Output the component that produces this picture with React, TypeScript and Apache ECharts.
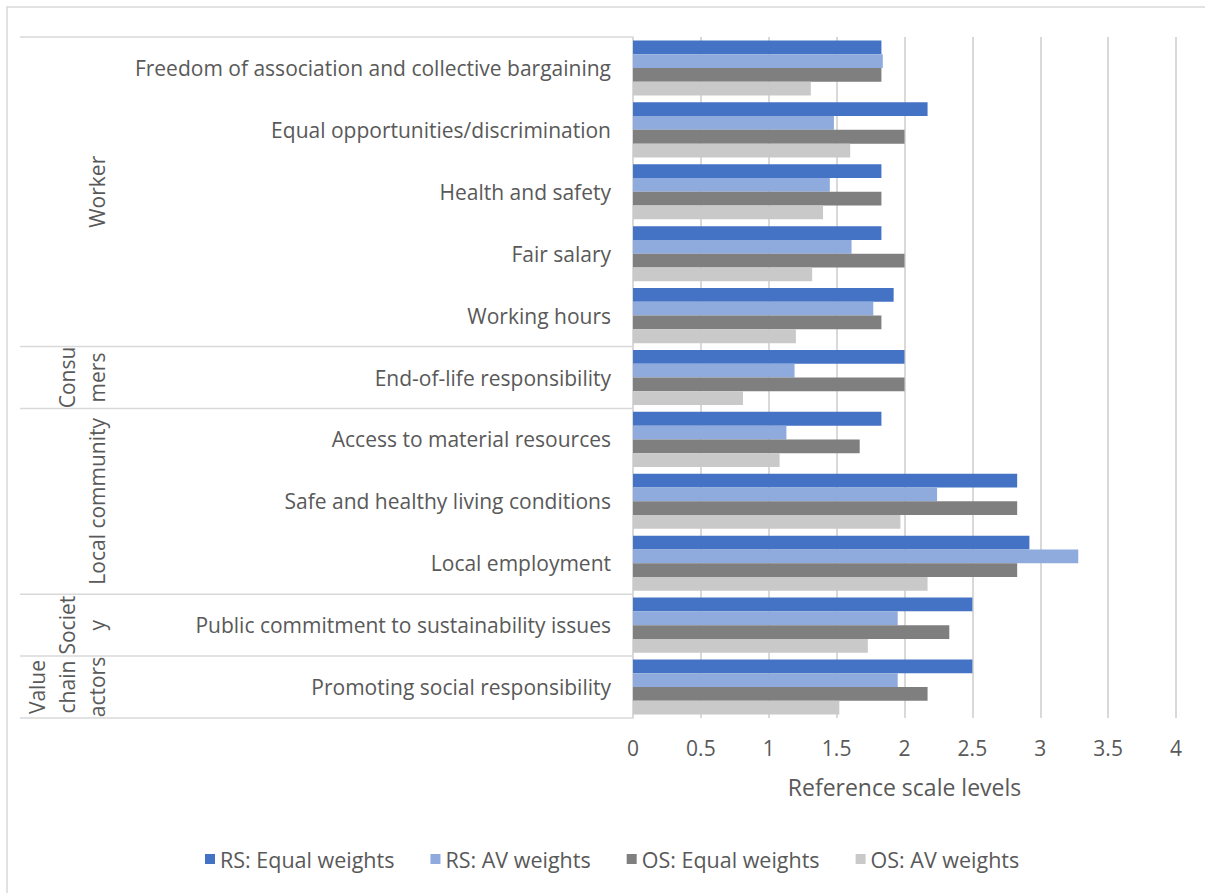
import React, { useEffect, useRef } from "react";
import * as echarts from "echarts";

const categories = [
  "Freedom of association and collective bargaining",
  "Equal opportunities/discrimination",
  "Health and safety",
  "Fair salary",
  "Working hours",
  "End-of-life responsibility",
  "Access to material resources",
  "Safe and healthy living conditions",
  "Local employment",
  "Public commitment to sustainability issues",
  "Promoting social responsibility",
];

const seriesNames = ["RS: Equal weights", "RS: AV weights", "OS: Equal weights", "OS: AV weights"];
const rsEqual = [1.83, 2.17, 1.83, 1.83, 1.92, 2.0, 1.83, 2.83, 2.92, 2.5, 2.5];
const rsAV = [1.84, 1.48, 1.45, 1.61, 1.77, 1.19, 1.13, 2.24, 3.28, 1.95, 1.95];
const osEqual = [1.83, 2.0, 1.83, 2.0, 1.83, 2.0, 1.67, 2.83, 2.83, 2.33, 2.17];
const osAV = [1.31, 1.6, 1.4, 1.32, 1.2, 0.81, 1.08, 1.97, 2.17, 1.73, 1.52];

const groupNames = ["Worker", "Consu\nmers", "Local community", "Societ\ny", "Value\nchain\nactors"];
const groupStart = [0, 5, 6, 9, 10];
const groupEnd = [4, 5, 8, 9, 10];

const xTicks = { min: 0, max: 4, interval: 0.5 };
const axisName = "Reference scale levels";

const colors = ["#4472C4", "#8FAADC", "#7F7F7F", "#C9C9C9"];
const FONT = "'Open Sans', 'Noto Sans', sans-serif";
const TEXT = "#595959";
const LINE = "#D9D9D9";

export default function App() {
  const ref = useRef<HTMLDivElement>(null);
  useEffect(() => {
    if (!ref.current) return;
    const chart = echarts.init(ref.current, null, { renderer: "svg" });
    const values = [rsEqual, rsAV, osEqual, osAV];
    chart.setOption({
      animation: false,
      textStyle: { fontFamily: FONT },
      grid: { left: 633, right: 29, top: 37, bottom: 175, containLabel: false },
      legend: {
        data: seriesNames,
        left: 200,
        top: 843,
        itemWidth: 10,
        itemHeight: 10,
        itemGap: 36,
        icon: "rect",
        textStyle: { fontSize: 21.5, color: TEXT, fontFamily: FONT },
      },
      xAxis: {
        type: "value",
        min: xTicks.min,
        max: xTicks.max,
        interval: xTicks.interval,
        name: axisName,
        nameLocation: "middle",
        nameGap: 57,
        nameTextStyle: { fontSize: 23, color: TEXT, fontFamily: FONT },
        axisLine: { show: false },
        axisTick: { show: false },
        axisLabel: { fontSize: 21, color: TEXT, margin: 19, fontFamily: FONT },
        splitLine: { show: true, lineStyle: { color: LINE, width: 2 } },
      },
      yAxis: {
        type: "category",
        data: categories,
        inverse: true,
        axisLine: { show: true, lineStyle: { color: LINE, width: 1.5 } },
        axisTick: { show: false },
        axisLabel: { fontSize: 21, color: TEXT, margin: 22, fontFamily: FONT },
        splitLine: { show: false },
      },
      series: seriesNames.map((name, i) => ({
        name,
        type: "bar",
        data: values[i],
        barGap: "0%",
        barCategoryGap: "11%",
        itemStyle: { color: colors[i] },
      })),
    });

    const p = categories.map((c) => chart.convertToPixel({ yAxisIndex: 0 }, c) as number);
    const band = Math.abs(p[1] - p[0]);
    const axisX = chart.convertToPixel({ xAxisIndex: 0 }, 0) as number;
    const graphic: any[] = [
      {
        type: "rect",
        shape: { x: 7, y: 7, width: 1220, height: 920 },
        style: { fill: "none", stroke: LINE, lineWidth: 1.5 },
        silent: true,
      },
    ];
    groupNames.forEach((g, k) => {
      const top = p[groupStart[k]] - band / 2;
      const bottom = p[groupEnd[k]] + band / 2;
      graphic.push({
        type: "line",
        shape: { x1: 20, y1: top, x2: axisX, y2: top },
        style: { stroke: LINE, lineWidth: 1.5 },
        silent: true,
      });
      if (k === groupNames.length - 1) {
        graphic.push({
          type: "line",
          shape: { x1: 20, y1: bottom, x2: axisX, y2: bottom },
          style: { stroke: LINE, lineWidth: 1.5 },
          silent: true,
        });
      }
      graphic.push({
        type: "text",
        x: 112,
        y: (top + bottom) / 2,
        rotation: Math.PI / 2,
        style: {
          text: g,
          fontSize: 21,
          fontFamily: FONT,
          fill: TEXT,
          align: "center",
          verticalAlign: "bottom",
          lineHeight: 30,
        },
        silent: true,
      });
    });
    chart.setOption({ graphic });
    return () => chart.dispose();
  }, []);
  return (
    <div
      ref={ref}
      style={{ position: "absolute", left: 0, top: 0, width: 1205, height: 893, background: "#fff" }}
    />
  );
}
